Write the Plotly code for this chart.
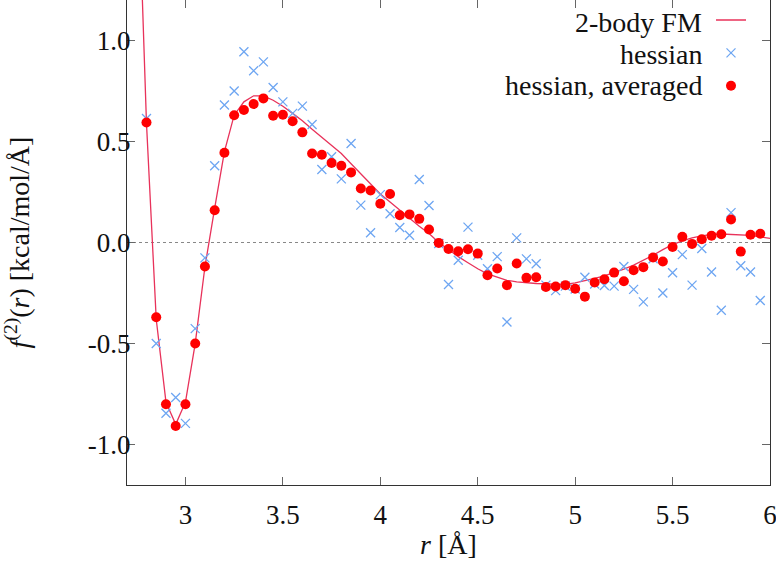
import plotly.graph_objects as go

# ---------------- data ----------------
r_pts = [2.80, 2.85, 2.90, 2.95, 3.00, 3.05, 3.10, 3.15, 3.20, 3.25, 3.30, 3.35, 3.40, 3.45,
         3.50, 3.55, 3.60, 3.65, 3.70, 3.75, 3.80, 3.85, 3.90, 3.95, 4.00, 4.05, 4.10, 4.15,
         4.20, 4.25, 4.30, 4.35, 4.40, 4.45, 4.50, 4.55, 4.60, 4.65, 4.70, 4.75, 4.80, 4.85,
         4.90, 4.95, 5.00, 5.05, 5.10, 5.15, 5.20, 5.25, 5.30, 5.35, 5.40, 5.45, 5.50, 5.55,
         5.60, 5.65, 5.70, 5.75, 5.80, 5.85, 5.90, 5.95]

hessian = [0.614, -0.50, -0.845, -0.767, -0.895, -0.426, -0.076, 0.38, 0.68, 0.75, 0.944, 0.85,
           0.894, 0.767, 0.696, 0.639, 0.675, 0.584, 0.361, 0.424, 0.315, 0.49, 0.185, 0.048,
           0.237, 0.142, 0.074, 0.036, 0.312, 0.183, -0.005, -0.208, -0.088, 0.076, -0.063,
           -0.13, -0.07, -0.393, 0.023, -0.081, -0.105, -0.211, -0.238, -0.216, -0.23, -0.172,
           -0.205, -0.213, -0.216, -0.119, -0.232, -0.294, -0.08, -0.25, -0.150, -0.06, -0.211,
           -0.03, -0.146, -0.335, 0.148, -0.115, -0.146, -0.287]

hessian_avg = [0.594, -0.37, -0.80, -0.908, -0.80, -0.50, -0.119, 0.16, 0.444, 0.63, 0.656,
               0.685, 0.713, 0.627, 0.632, 0.60, 0.545, 0.44, 0.434, 0.393, 0.38, 0.347, 0.267,
               0.257, 0.192, 0.24, 0.135, 0.139, 0.117, 0.064, -0.002, -0.032, -0.043, -0.033,
               -0.055, -0.162, -0.129, -0.211, -0.104, -0.175, -0.172, -0.22, -0.218, -0.211,
               -0.229, -0.268, -0.198, -0.182, -0.149, -0.192, -0.137, -0.122, -0.074, -0.094,
               -0.022, 0.028, -0.007, 0.016, 0.033, 0.041, 0.114, -0.045, 0.038, 0.043]

r_fm = [2.75, 2.80, 2.85, 2.90, 2.95, 3.00, 3.05, 3.10, 3.15, 3.20, 3.25, 3.30, 3.35, 3.40,
        3.45, 3.50, 3.55, 3.60, 3.65, 3.70, 3.75, 3.80, 3.85, 3.90, 3.95, 4.00, 4.05, 4.10,
        4.15, 4.20, 4.25, 4.30, 4.35, 4.40, 4.45, 4.50, 4.55, 4.60, 4.65, 4.70, 4.75, 4.80,
        4.85, 4.90, 4.95, 5.00, 5.05, 5.10, 5.15, 5.20, 5.25, 5.30, 5.35, 5.40, 5.45, 5.50,
        5.55, 5.60, 5.65, 5.70, 5.75, 5.80, 5.85, 5.90, 5.95, 6.00]
f_fm = [2.04, 0.59, -0.38, -0.79, -0.90, -0.79, -0.50, -0.12, 0.17, 0.45, 0.63, 0.696, 0.726,
        0.726, 0.704, 0.674, 0.639, 0.602, 0.56, 0.52, 0.48, 0.44, 0.39, 0.34, 0.29, 0.24,
        0.20, 0.16, 0.12, 0.08, 0.045, 0.0, -0.035, -0.07, -0.10, -0.13, -0.155, -0.172,
        -0.187, -0.195, -0.2, -0.203, -0.205, -0.207, -0.207, -0.2, -0.19, -0.178, -0.165,
        -0.15, -0.132, -0.112, -0.088, -0.063, -0.035, -0.01, 0.008, 0.023, 0.033, 0.04,
        0.042, 0.04, 0.038, 0.035, 0.028, 0.02]

x_ticks = [3, 3.5, 4, 4.5, 5, 5.5, 6]
x_ticktext = ["3", "3.5", "4", "4.5", "5", "5.5", "6"]
y_ticks = [-1.0, -0.5, 0.0, 0.5, 1.0]
y_ticktext = ["-1.0", "-0.5", "0.0", "0.5", "1.0"]

legend_labels = ["2-body FM", "hessian", "hessian, averaged"]

# ---------------- style ----------------
FONT = "Liberation Serif"
FS = 28
TICK_FS = 27
LINE_COLOR = "#e8325a"
CROSS_COLOR = "#6ea6f2"
DOT_COLOR = "#ff0000"
AXIS_COLOR = "#333333"

fig = go.Figure()

fig.add_trace(go.Scatter(x=r_fm, y=f_fm, mode="lines", name="\u00a0",
                         line=dict(color=LINE_COLOR, width=1.3)))
fig.add_trace(go.Scatter(x=r_pts, y=hessian, mode="markers", name="\u00a0",
                         marker=dict(symbol="x-thin-open", size=9,
                                     line=dict(color=CROSS_COLOR, width=1.3),
                                     color=CROSS_COLOR)))
fig.add_trace(go.Scatter(x=r_pts, y=hessian_avg, mode="markers", name="\u00a0",
                         marker=dict(symbol="circle", size=10, color=DOT_COLOR,
                                     line=dict(width=0))))

# zero line (dotted)
fig.add_shape(type="line", xref="paper", x0=0, x1=1, yref="y", y0=0, y1=0,
              line=dict(color="#888888", width=1, dash="dot"), layer="below")

# legend text (right-aligned, gnuplot style)
L, T, W, H = 127, 0, 643, 485
row_y = [22.5, 54, 85.5]
for lbl, py in zip(legend_labels, row_y):
    fig.add_annotation(text=lbl, xref="paper", yref="paper",
                       x=(704 - L) / W, y=1 - (py - T) / H,
                       xanchor="right", yanchor="middle", showarrow=False,
                       font=dict(family=FONT, size=FS, color="#111111"))

fig.update_layout(
    width=776, height=570,
    margin=dict(l=L, r=776 - L - W, t=T, b=570 - T - H, autoexpand=False),
    paper_bgcolor="white", plot_bgcolor="white",
    font=dict(family=FONT, size=TICK_FS, color="#111111"),
    showlegend=True,
    legend=dict(x=(711 - L) / W, y=1.003, xanchor="left", yanchor="top",
                bgcolor="rgba(0,0,0,0)", font=dict(size=23, family=FONT),
                tracegroupgap=0, itemwidth=30),
    xaxis=dict(range=[2.7, 6.0], tickvals=x_ticks, ticktext=x_ticktext,
               ticks="inside", ticklen=8, tickcolor="#666666", mirror="allticks",
               showline=True, linecolor=AXIS_COLOR, linewidth=1.2,
               showgrid=False, zeroline=False, ticklabeloverflow="allow",
               ticklabelstandoff=5,
               title=dict(text="<i>r</i> [Å]", standoff=4, font=dict(size=FS))),
    yaxis=dict(range=[-1.2, 1.2], tickvals=y_ticks, ticktext=y_ticktext,
               ticks="inside", ticklen=8, tickcolor="#666666", mirror="allticks",
               showline=True, linecolor=AXIS_COLOR, linewidth=1.2,
               showgrid=False, zeroline=False, ticklabelstandoff=-10,
               title=dict(text="<i>f</i><sup>(2)</sup>(<i>r</i>) [kcal/mol/Å]",
                          standoff=54, font=dict(size=FS))),
)

fig.write_html("out.html", config={"displayModeBar": False},
               post_script="document.body.style.margin='0';document.body.style.padding='0';")
